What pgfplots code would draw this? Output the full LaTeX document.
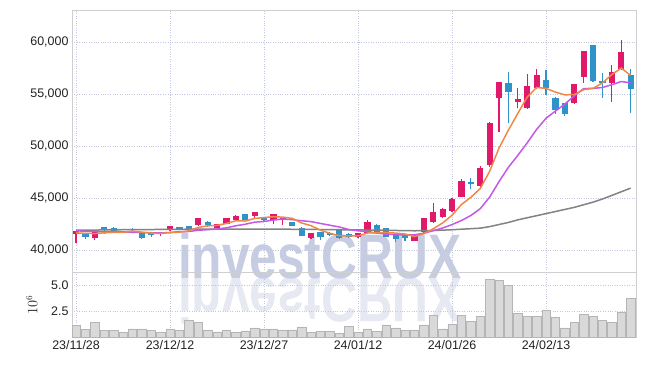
\documentclass[border=0pt]{standalone}
\usepackage{pgfplots}
\pgfplotsset{compat=1.18}
\usepackage{pgfplotstable}
\usepackage{fontspec}
\setmainfont{Liberation Sans}
\definecolor{cRed}{HTML}{E0196B}
\definecolor{cBlue}{HTML}{2E93C8}
\definecolor{cOrange}{HTML}{F0884A}
\definecolor{cViolet}{HTML}{C558E6}
\definecolor{cGray}{HTML}{828282}
\definecolor{gridc}{HTML}{C4C8DE}
\definecolor{framec}{HTML}{CFCFCF}
\definecolor{wm}{HTML}{C6CCE2}
\definecolor{wmtwo}{HTML}{E6E9F2}
\definecolor{tickc}{HTML}{222222}
\definecolor{volfill}{HTML}{D9D9D9}
\definecolor{voldraw}{HTML}{B5B5B5}
\pgfdeclarelayer{background}
\pgfsetlayers{background,main}

\pgfplotstableread{
x bl bh l h
0 41500 41750 40700 41800
2 41150 41730 40960 41780
9 41500 41630 41300 41700
10 41890 42210 41850 42250
13 42400 43040 42350 43100
15 42150 42400 42100 42450
16 42530 43040 42500 43100
17 42920 43170 42800 43400
19 43240 43620 43000 43700
21 42860 43430 42500 43500
22 42860 42980 42450 43100
25 41120 41570 41050 41650
30 41280 41600 41200 41650
31 41600 42630 41550 42900
36 40900 41410 40850 41450
37 41700 42980 41650 43000
38 42660 43620 42600 44490
39 43200 43850 43050 44050
40 43780 44870 43700 45000
41 45120 46570 45050 46800
43 46180 47850 46100 48100
44 48170 52120 48000 52350
45 54650 56090 51380 56150
47 54230 54420 53630 55600
48 53680 55700 53600 56920
49 55550 56730 55500 57370
53 54100 55870 54050 55950
54 56670 59040 56030 59100
57 56090 57090 54260 57790
58 57370 59010 57300 60190
}\upc

\pgfplotstableread{
x bl bh l h
1 41250 41460 41060 41650
3 41900 42150 41540 42200
4 41830 42100 41700 42200
5 41730 41790 41650 41850
6 41900 41960 41750 42100
7 41190 41570 41100 41600
8 41440 41570 41250 41620
11 42050 42110 41900 42250
12 41890 42210 41850 42250
14 42400 42600 42200 42750
18 42920 43360 42850 43400
20 42860 43110 42700 43200
23 42340 42600 42300 42700
24 41380 42020 41300 42200
26 41250 41630 40950 41700
27 41470 41530 41300 41750
28 41190 41830 41100 41900
29 41250 41440 41150 41600
32 41600 42310 41550 42500
33 41280 42060 41250 42100
34 41030 41350 40800 41400
35 41150 41410 40900 41450
42 46380 46440 45900 46900
46 55220 55960 52180 57150
50 55610 56250 54900 57310
51 53460 54580 53080 54700
52 53080 54040 52900 54100
55 56250 59620 56200 59650
56 56090 56190 54590 57050
59 55480 56730 53150 57370
}\downc

\pgfplotstableread{
x ma5 ma10 mal
0 41650 41850 41900
1 41600 41800 41910
2 41580 41780 41920
3 41650 41760 41930
4 41692 41750 41940
5 41694 41720 41950
6 41824 41700 41960
7 41716 41680 41965
8 41624 41660 41970
9 41584 41638 41975
10 41674 41684 41980
11 41710 41767 41990
12 41850 41783 42000
13 42170 41897 42000
14 42324 41954 42005
15 42362 42018 42010
16 42554 42132 42010
17 42810 42330 42010
18 42786 42478 42010
19 43030 42677 42010
20 43122 42742 42010
21 43200 42877 42005
22 43162 42986 42000
23 43046 42916 41995
24 42598 42814 41990
25 42340 42731 41980
26 41904 42552 41970
27 41608 42385 41960
28 41378 42212 41950
29 41352 41975 41940
30 41358 41849 41930
31 41634 41769 41920
32 41654 41631 41910
33 41672 41525 41900
34 41628 41490 41880
35 41538 41448 41860
36 41294 41464 41850
37 41570 41612 41860
38 42038 41855 41880
39 42602 42115 41910
40 43346 42442 41950
41 44378 42836 42000
42 45064 43317 42050
43 45910 43974 42100
44 47564 45083 42250
45 49808 46577 42450
46 51538 47958 42650
47 53140 49102 42900
48 54710 50310 43100
49 55632 51598 43300
50 55536 52672 43500
51 55184 53361 43700
52 54916 54028 43900
53 54950 54830 44100
54 55412 55522 44350
55 55540 55538 44600
56 56066 55625 44900
57 56868 55892 45250
58 57496 56201 45600
59 56784 56076 45950
}\lines

\pgfplotstableread{
x v
0 1.09
1 0.72
2 1.44
3 0.63
4 0.63
5 0.41
6 0.78
7 0.78
8 0.63
9 0.41
10 0.78
11 0.63
12 1.63
13 1.38
14 0.69
15 0.50
16 0.69
17 0.41
18 0.59
19 0.88
20 0.78
21 0.78
22 0.69
23 0.69
24 0.97
25 0.47
26 0.53
27 0.53
28 0.34
29 1.03
30 0.41
31 0.78
32 0.53
33 1.16
34 0.88
35 0.63
36 0.69
37 1.16
38 2.09
39 0.78
40 1.25
41 2.09
42 1.53
43 2.00
44 5.56
45 5.47
46 4.94
47 2.28
48 2.00
49 2.00
50 2.53
51 1.91
52 0.88
53 1.44
54 2.19
55 2.00
56 1.63
57 1.44
58 2.38
59 3.69
}\vol

\pgfplotsset{
  chartbase/.style={
    scale only axis,
    xmin=-0.43, xmax=59.57,
    xtick={0,10,20,30,40,50},
    grid=major,
    major grid style={gridc, dotted, line width=0.7bp},
    axis line style={framec, line width=0.8bp},
    major tick length=0pt,
    tick label style={font=\fontsize{12.5}{14}\selectfont, text=tickc},
    /pgf/number format/assume math mode=true,
  },
}

\begin{document}
\begin{tikzpicture}[x=1bp,y=1bp]
\begin{axis}[chartbase, name=price,
  at={(0,0)}, anchor=south west, width=564bp, height=262bp,
  ymin=37885, ymax=63077,
  ytick={40000,45000,50000,55000,60000},
  xticklabels={},
  scaled y ticks=false,
  yticklabel style={/pgf/number format/1000 sep={,}},
]
% wicks
\addplot[forget plot, draw=none, mark=none, error bars/.cd, y dir=plus, y explicit, error mark=none,
  error bar style={draw=cRed, line width=1.2bp}]
  table[x=x, y=l, y error plus expr=\thisrow{h}-\thisrow{l}]{\upc};
\addplot[forget plot, draw=none, mark=none, error bars/.cd, y dir=plus, y explicit, error mark=none,
  error bar style={draw=cBlue, line width=1.2bp}]
  table[x=x, y=l, y error plus expr=\thisrow{h}-\thisrow{l}]{\downc};
% bodies
\addplot[forget plot, draw=none, mark=none, error bars/.cd, y dir=plus, y explicit, error mark=none,
  error bar style={draw=cRed, line width=6.2bp}]
  table[x=x, y=bl, y error plus expr=\thisrow{bh}-\thisrow{bl}+60]{\upc};
\addplot[forget plot, draw=none, mark=none, error bars/.cd, y dir=plus, y explicit, error mark=none,
  error bar style={draw=cBlue, line width=6.2bp}]
  table[x=x, y=bl, y error plus expr=\thisrow{bh}-\thisrow{bl}+60]{\downc};
% moving averages
\addplot[cGray, line width=1.5bp, mark=none] table[x=x, y=mal]{\lines};
\addplot[cViolet, line width=1.5bp, mark=none] table[x=x, y=ma10]{\lines};
\addplot[cOrange, line width=1.5bp, mark=none] table[x=x, y=ma5]{\lines};
\end{axis}

\begin{axis}[chartbase, name=vol,
  at={(price.south west)}, anchor=north west, width=564bp, height=65bp,
  ymin=0, ymax=6.25,
  ytick={2.5,5},
  xticklabels={23/11/28,23/12/12,23/12/27,24/01/12,24/01/26,24/02/13},
  yticklabel style={/pgf/number format/fixed, /pgf/number format/precision=1, /pgf/number format/fixed zerofill},
  ylabel={$10^6$},
  ylabel style={font=\fontsize{13.5}{14}\selectfont, text=tickc},
  ylabel shift=7bp,
]
\addplot[ybar, bar width=8.4bp, fill=volfill, draw=voldraw, line width=0.5bp] table[x=x, y=v]{\vol};
\end{axis}

% watermark behind everything
\begin{pgfonlayer}{background}
\node[text=wmtwo, font=\fontsize{63}{63}\selectfont\bfseries, xscale=0.79, yscale=-1, anchor=base, inner sep=0pt] at ([shift={(248bp,-6bp)}]price.south west) {investCRUX};
\node[text=wm, font=\fontsize{63}{63}\selectfont\bfseries, xscale=0.79, anchor=base, inner sep=0pt] at ([shift={(248bp,-6bp)}]price.south west) {investCRUX};
\end{pgfonlayer}

\pgfresetboundingbox
\path[use as bounding box] ([shift={(-72bp,-29bp)}]vol.south west) rectangle ++(645bp,366bp);
\end{tikzpicture}
\end{document}
